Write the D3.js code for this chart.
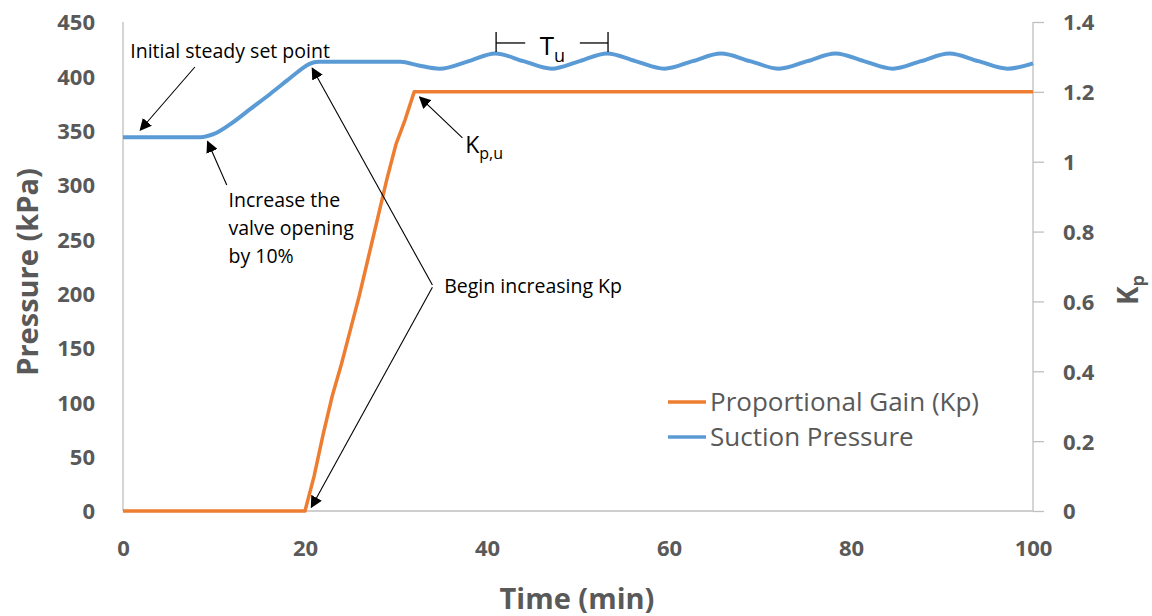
<!DOCTYPE html>
<html>
<head>
<meta charset="utf-8">
<script src="https://cdn.jsdelivr.net/npm/d3@7"></script>
<style>
  html, body { margin: 0; padding: 0; background: #fff; }
  svg { display: block; font-family: "Open Sans", "Liberation Sans", sans-serif; }
</style>
</head>
<body>
<svg id="chart" width="1152" height="616"></svg>
<script>
// Suction pressure (kPa) over time (min)
const pressureTime = [0, 8.5, 10, 11.8, 14, 16.2, 18, 19.5, 20.5, 21.5, 30.5, 32.5, 34.8,
  38, 40.9, 44, 47.1, 50.2, 53.2, 56.3, 59.5, 62.6, 65.7, 68.9, 72.1, 75.2, 78.3,
  81.4, 84.6, 87.7, 90.8, 94, 97.2, 100];
const pressureValues = [344, 344, 347, 356, 370, 384, 396, 406, 411.5, 413.5, 413.5, 410, 407,
  414, 421, 414, 407, 414, 421, 414, 407, 414, 421, 414, 407, 414, 421,
  414, 407, 414, 421, 414, 407, 412];

// Proportional gain Kp over time (min)
const gainTime = [0, 20, 21, 22, 23, 24, 25, 26, 27, 28, 29, 30, 31, 32, 100];
const gainValues = [0, 0, 0.1, 0.22, 0.33, 0.42, 0.52, 0.62, 0.73, 0.84, 0.95, 1.05, 1.12, 1.2, 1.2];

const timeTicks = [0, 20, 40, 60, 80, 100];
const pressureTicks = [0, 50, 100, 150, 200, 250, 300, 350, 400, 450];
const gainTicks = [0, 0.2, 0.4, 0.6, 0.8, 1, 1.2, 1.4];

const seriesNames = ["Proportional Gain (Kp)", "Suction Pressure"];
const seriesColors = ["#ED7D31", "#5B9BD5"];

const svg = d3.select("#chart");
const textGray = "#595959";
const axisGray = "#BFBFBF";

const x = d3.scaleLinear().domain([0, 100]).range([123, 1033]);
const yP = d3.scaleLinear().domain([0, 450]).range([511, 22]);
const yK = d3.scaleLinear().domain([0, 1.4]).range([511, 22]);

// arrowhead marker
svg.append("defs").append("marker")
  .attr("id", "arrow")
  .attr("viewBox", "0 0 10 10")
  .attr("refX", 9).attr("refY", 5)
  .attr("markerWidth", 12).attr("markerHeight", 12)
  .attr("markerUnits", "userSpaceOnUse")
  .attr("orient", "auto")
  .append("path").attr("d", "M0,0 L10,5 L0,10 z").attr("fill", "#000");

// axis lines
svg.append("line").attr("x1", x(0)).attr("x2", x(0)).attr("y1", yP(450)).attr("y2", yP(0))
  .attr("stroke", axisGray).attr("stroke-width", 1.3);
svg.append("line").attr("x1", x(0)).attr("x2", x(100)).attr("y1", yP(0)).attr("y2", yP(0))
  .attr("stroke", axisGray).attr("stroke-width", 1.3);

// right Kp axis with outward ticks
const rightAxis = svg.append("g")
  .attr("transform", `translate(${x(100)},0)`)
  .call(d3.axisRight(yK).tickValues(gainTicks).tickSize(11).tickPadding(19)
    .tickFormat(d => String(+d.toFixed(1))));
rightAxis.select(".domain").attr("stroke", axisGray).attr("stroke-width", 1.3)
  .attr("d", `M0,${yK(1.4)}V${yK(0)}`);
rightAxis.selectAll(".tick line").attr("stroke", axisGray).attr("stroke-width", 1.3);
rightAxis.selectAll(".tick text")
  .attr("fill", textGray).attr("font-size", 22).attr("font-weight", 700)
  .attr("font-family", "'Open Sans', sans-serif").attr("dy", "0.36em");

// left pressure axis labels
const leftAxis = svg.append("g")
  .attr("transform", `translate(${x(0)},0)`)
  .call(d3.axisLeft(yP).tickValues(pressureTicks).tickSize(0).tickPadding(28));
leftAxis.select(".domain").remove();
leftAxis.selectAll(".tick text")
  .attr("fill", textGray).attr("font-size", 22).attr("font-weight", 700)
  .attr("font-family", "'Open Sans', sans-serif").attr("dy", "0.36em");

// bottom time axis labels
const bottomAxis = svg.append("g")
  .attr("transform", `translate(0,${yP(0)})`)
  .call(d3.axisBottom(x).tickValues(timeTicks).tickSize(0).tickPadding(29));
bottomAxis.select(".domain").remove();
bottomAxis.selectAll(".tick text")
  .attr("fill", textGray).attr("font-size", 22).attr("font-weight", 700)
  .attr("font-family", "'Open Sans', sans-serif");

// axis titles
svg.append("text").attr("x", 577).attr("y", 609).attr("text-anchor", "middle")
  .attr("fill", textGray).attr("font-size", 29).attr("font-weight", 700)
  .text("Time (min)");
svg.append("text").attr("transform", "translate(38,272) rotate(-90)").attr("text-anchor", "middle")
  .attr("fill", textGray).attr("font-size", 29).attr("font-weight", 700)
  .text("Pressure (kPa)");
const kTitle = svg.append("text").attr("transform", "translate(1138,290) rotate(-90)")
  .attr("text-anchor", "middle").attr("fill", textGray).attr("font-size", 28).attr("font-weight", 700);
kTitle.append("tspan").text("K");
kTitle.append("tspan").attr("font-size", 18).attr("dy", 6).text("p");

// series lines
const gainLine = d3.line().x((d, i) => x(gainTime[i])).y(d => yK(d));
svg.append("path").datum(gainValues).attr("d", gainLine)
  .attr("fill", "none").attr("stroke", seriesColors[0]).attr("stroke-width", 3.5)
  .attr("stroke-linejoin", "round");

const pressureLine = d3.line().curve(d3.curveMonotoneX)
  .x((d, i) => x(pressureTime[i])).y(d => yP(d));
svg.append("path").datum(pressureValues).attr("d", pressureLine)
  .attr("fill", "none").attr("stroke", seriesColors[1]).attr("stroke-width", 4)
  .attr("stroke-linejoin", "round");

// legend
const legend = svg.append("g");
seriesNames.forEach((name, i) => {
  const ly = 402 + i * 35;
  legend.append("line").attr("x1", 668).attr("x2", 706).attr("y1", ly).attr("y2", ly)
    .attr("stroke", seriesColors[i]).attr("stroke-width", 3.5);
  legend.append("text").attr("x", 710).attr("y", ly + 9)
    .attr("fill", textGray).attr("font-size", 26).text(name);
});

// annotations
const ann = svg.append("g").attr("fill", "#000").attr("font-size", 19.5);
function arrow(t1, v1, t2, v2, yScale) {
  ann.append("line")
    .attr("x1", x(t1)).attr("y1", yScale(v1))
    .attr("x2", x(t2)).attr("y2", yScale(v2))
    .attr("stroke", "#000").attr("stroke-width", 1.1)
    .attr("marker-end", "url(#arrow)");
}

ann.append("text").attr("x", x(0.8)).attr("y", yP(417)).text("Initial steady set point");
arrow(7.9, 408.6, 1.9, 350.6, yP);

const inc = ann.append("text").attr("x", x(11.6)).attr("y", yP(280));
["Increase the", "valve opening", "by 10%"].forEach((s, i) => {
  inc.append("tspan").attr("x", x(11.6)).attr("dy", i === 0 ? 0 : 28).text(s);
});
arrow(11.4, 300, 9.3, 340, yP);

ann.append("text").attr("x", x(35.3)).attr("y", yP(200.5)).text("Begin increasing Kp");
arrow(34, 208, 20.8, 407.5, yP);
arrow(34, 206, 20.7, 3.5, yP);

const kpu = ann.append("text").attr("x", x(37.6)).attr("y", yK(1.025)).attr("font-size", 23);
kpu.append("tspan").text("K");
kpu.append("tspan").attr("font-size", 16).attr("dy", 6).text("p,u");
arrow(37.3, 1.068, 32.6, 1.185, yK);

// oscillation period bracket
const tu = svg.append("g").attr("stroke", "#000").attr("stroke-width", 1.3);
tu.append("line").attr("x1", x(41)).attr("x2", x(41)).attr("y1", yP(440.8)).attr("y2", yP(422.4));
tu.append("line").attr("x1", x(41)).attr("x2", x(44.2)).attr("y1", yP(430.7)).attr("y2", yP(430.7));
tu.append("line").attr("x1", x(50.2)).attr("x2", x(53.3)).attr("y1", yP(430.7)).attr("y2", yP(430.7));
tu.append("line").attr("x1", x(53.3)).attr("x2", x(53.3)).attr("y1", yP(440.8)).attr("y2", yP(422.4));
const tuText = svg.append("text").attr("x", x(45.8)).attr("y", yP(419.6))
  .attr("fill", "#000").attr("font-size", 26);
tuText.append("tspan").text("T");
tuText.append("tspan").attr("font-size", 18).attr("dy", 7).text("u");
</script>
</body>
</html>
